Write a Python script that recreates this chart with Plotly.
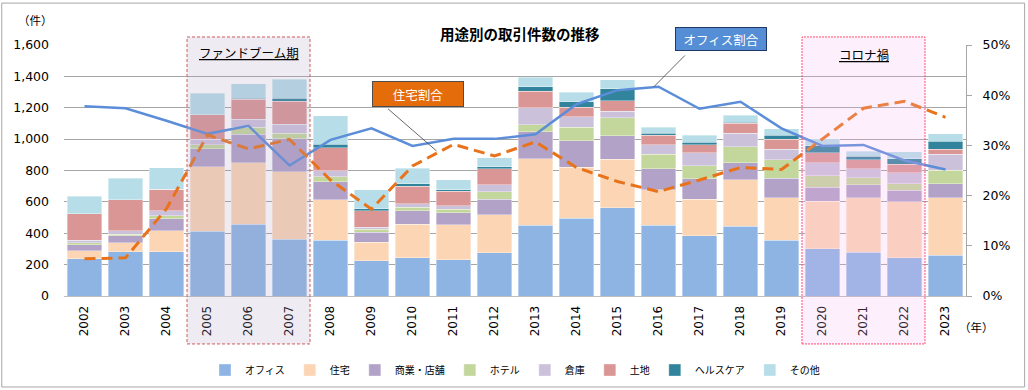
import plotly.graph_objects as go

years = [str(y) for y in range(2002, 2024)]

office      = [238, 283, 283, 414, 457, 361, 357, 225, 244, 232, 276, 451, 495, 563, 451, 385, 446, 355, 300, 280, 244, 261]
residential = [49, 57, 133, 411, 393, 432, 257, 119, 213, 223, 242, 424, 327, 310, 225, 233, 296, 270, 304, 345, 357, 366]
retail      = [40, 45, 75, 114, 181, 210, 115, 62, 87, 76, 98, 171, 168, 149, 136, 130, 108, 125, 89, 83, 73, 89]
hotel       = [13, 10, 21, 24, 44, 34, 30, 19, 23, 22, 47, 46, 87, 115, 91, 83, 102, 117, 74, 46, 40, 87]
warehouse   = [17, 21, 32, 36, 53, 57, 38, 13, 22, 21, 47, 108, 66, 42, 60, 83, 87, 70, 81, 58, 72, 100]
land        = [166, 196, 138, 155, 126, 149, 149, 104, 112, 95, 102, 105, 60, 66, 63, 49, 62, 62, 66, 57, 53, 34]
healthcare  = [0, 0, 0, 0, 8, 17, 21, 15, 13, 9, 13, 29, 36, 77, 13, 17, 8, 25, 44, 21, 36, 51]
other       = [114, 140, 134, 138, 92, 123, 181, 119, 100, 62, 55, 62, 59, 55, 38, 46, 43, 41, 45, 34, 43, 45]

office_share = [37.8, 37.4, 34.9, 32.3, 33.9, 26.0, 31.1, 33.4, 29.9, 31.3, 31.3, 32.2, 38.2, 41.0, 41.7, 37.3, 38.7, 33.4, 29.9, 30.1, 27.0, 25.2]
res_share    = [7.4, 7.6, 17.4, 32.1, 29.3, 31.2, 23.1, 17.3, 25.9, 30.2, 27.9, 30.7, 25.6, 22.8, 20.8, 23.1, 25.6, 25.2, 31.3, 37.4, 38.8, 35.6]

series_names = ["オフィス", "住宅", "商業・店舗", "ホテル", "倉庫", "土地", "ヘルスケア", "その他"]
series_vals = [office, residential, retail, hotel, warehouse, land, healthcare, other]
series_colors = ["#8EB4E3", "#FCD5B5", "#B3A2C7", "#C3D69B", "#CCC1DA", "#D99694", "#31849B", "#B7DEE8"]

FONT = "DejaVu Sans, Noto Sans CJK JP, sans-serif"
JFONT = "Noto Sans CJK JP, sans-serif"

fig = go.Figure()
for name, vals, color in zip(series_names, series_vals, series_colors):
    fig.add_trace(go.Bar(
        x=years, y=vals, name=name,
        marker=dict(color=color, line=dict(color="rgba(255,255,255,0.6)", width=0.6)),
    ))

fig.add_trace(go.Scatter(
    x=years, y=office_share, yaxis="y2", mode="lines", name="オフィス割合",
    line=dict(color="#5B8DD9", width=2.5), showlegend=False,
))
fig.add_trace(go.Scatter(
    x=years, y=res_share, yaxis="y2", mode="lines", name="住宅割合",
    line=dict(color="#E8731A", width=3, dash="11px,6px"), showlegend=False,
))

shapes = [
    dict(type="rect", xref="x", yref="paper", x0=2.5, x1=5.5, y0=-0.191, y1=1.032,
         fillcolor="rgba(170,155,195,0.2)", line=dict(color="#D05A5A", width=1, dash="3px,2px"),
         layer="above"),
    dict(type="rect", xref="x", yref="paper", x0=17.5, x1=20.5, y0=-0.191, y1=1.032,
         fillcolor="rgba(245,180,240,0.2)", line=dict(color="#FF4D6D", width=1, dash="2px,1px"),
         layer="above"),
    dict(type="rect", xref="paper", yref="paper", x0=-0.0690, x1=1.0650, y0=-0.3625, y1=1.167,
         fillcolor="rgba(0,0,0,0)", line=dict(color="#A6A6A6", width=1), layer="below"),
]

C = dict(xanchor="center", yanchor="middle")
annotations = [
    dict(text="<b>用途別の取引件数の推移</b>", x=0.5052, y=1.044, xref="paper", yref="paper",
         showarrow=False, font=dict(family=JFONT, size=14.5, color="#000"), **C),
    dict(text="（件）", x=-0.0311, y=1.0996, xref="paper", yref="paper",
         showarrow=False, font=dict(family=JFONT, size=11.5, color="#000"), **C),
    dict(text="（年）", x=1.0116, y=-0.122, xref="paper", yref="paper",
         showarrow=False, font=dict(family=JFONT, size=11.5, color="#000"), **C),
    dict(text="<u>ファンドブーム期</u>", x=4, y=0.972, xref="x", yref="paper",
         showarrow=False, font=dict(family=JFONT, size=12.5, color="#000"), **C),
    dict(text="<u>コロナ禍</u>", x=19, y=0.964, xref="x", yref="paper",
         showarrow=False, font=dict(family=JFONT, size=12.5, color="#000"), **C),
    # leader lines
    dict(text=" ", x=8.585, y=28.9, xref="x", yref="y2", showarrow=True, arrowhead=0,
         arrowwidth=0.8, arrowcolor="#404040", ax=-50, ay=-43.4, standoff=0,
         font=dict(size=1)),
    dict(text=" ", x=13.89, y=41.7, xref="x", yref="y2", showarrow=True, arrowhead=0,
         arrowwidth=0.8, arrowcolor="#404040", ax=32.4, ay=-32.7, standoff=0,
         font=dict(size=1)),
    # label boxes
    dict(text="住宅割合", x=0.392, y=0.8048, xref="paper", yref="paper", showarrow=False,
         bgcolor="#E46C0A", bordercolor="#4D4D4D", borderwidth=1, borderpad=2,
         width=86, height=20, font=dict(family=JFONT, size=12.5, color="#FFFFFF"), **C),
    dict(text="オフィス割合", x=0.7279, y=1.0251, xref="paper", yref="paper", showarrow=False,
         bgcolor="#558ED5", bordercolor="#1F3864", borderwidth=1, borderpad=2,
         width=86, height=18, font=dict(family=JFONT, size=12.5, color="#FFFFFF"), **C),
]

fig.update_layout(
    width=1028, height=390, autosize=False,
    barmode="stack", bargap=0.17,
    margin=dict(l=64, r=62, t=45, b=94, autoexpand=False),
    paper_bgcolor="white", plot_bgcolor="white",
    font=dict(family=FONT, size=12, color="#000"),
    xaxis=dict(type="category", range=[-0.5, 21.5], tickangle=-90, showline=True,
               linecolor="#BFBFBF", linewidth=1, showgrid=False, ticks="",
               tickfont=dict(size=12), ticklabelstandoff=4, automargin=False),
    yaxis=dict(range=[0, 1600], dtick=200, tickformat=",d", gridcolor="#A6A6A6",
               gridwidth=1, showline=False, zeroline=False, ticklabelstandoff=14,
               tickfont=dict(size=12.5), automargin=False),
    yaxis2=dict(overlaying="y", side="right", range=[0, 50], dtick=10, ticksuffix="%",
                showgrid=False, showline=True, linecolor="#A6A6A6", ticks="outside",
                ticklen=5, tickcolor="#A6A6A6", zeroline=False, ticklabelstandoff=8,
                tickfont=dict(size=12.5), automargin=False),
    legend=dict(orientation="h", x=0.5, xanchor="center", y=-0.295, yanchor="middle",
                traceorder="normal", font=dict(family=JFONT, size=10), itemwidth=30,
                tracegroupgap=0),
    shapes=shapes,
    annotations=annotations,
)

fig.write_html("out.html", config={"displayModeBar": False},
               post_script="document.body.style.margin='0';")
